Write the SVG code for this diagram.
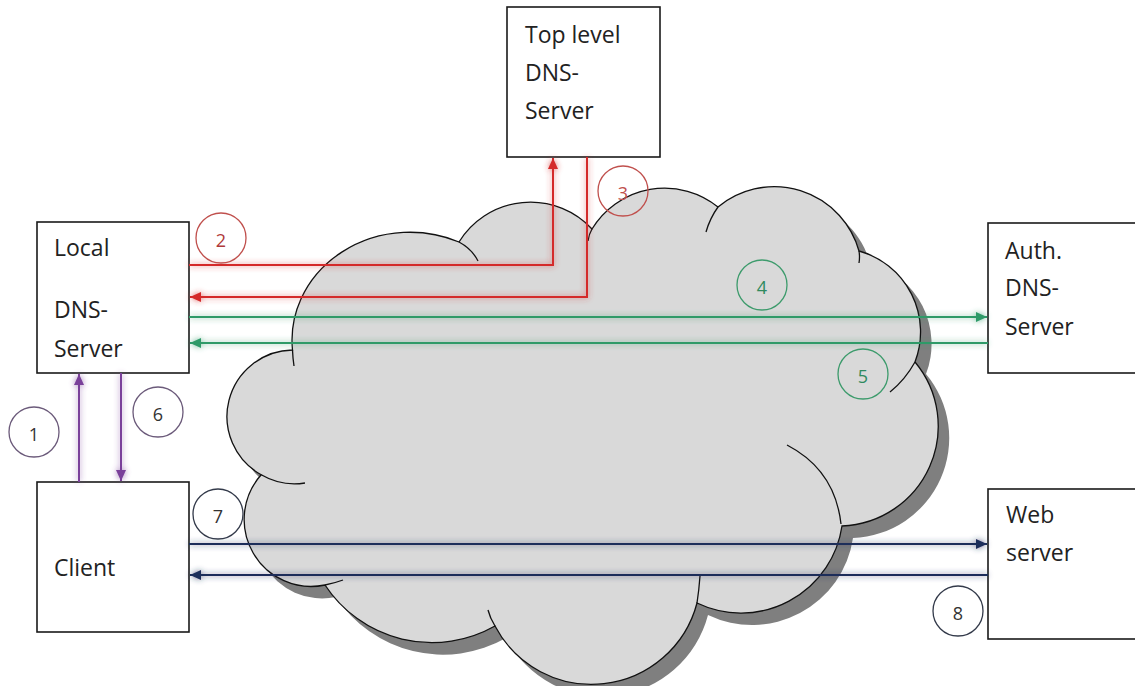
<svg xmlns="http://www.w3.org/2000/svg" xmlns:xlink="http://www.w3.org/1999/xlink" width="1135" height="686" viewBox="0 0 1135 686">
<style>
.box{fill:#fff;stroke:#1a1a1a;stroke-width:1.6}
.lbl{font-family:"Open Sans","Liberation Sans",sans-serif;font-size:23px;fill:#222}
.num{font-family:"Open Sans","Liberation Sans",sans-serif;font-size:18px;text-anchor:middle}
.circ{fill:none;stroke-width:1.3}
.seam{fill:none;stroke:#111;stroke-width:1.3}
.ln{fill:none;stroke-width:2}
.red{stroke:#d42a2a}
.green{stroke:#2f9a68}
.navy{stroke:#1f2d5a}
.purple{stroke:#7a3f9a}
</style>
<defs>
<path id="cloudShape" d="M261.2,474.8 A66.6,66.6 0 0 1 292.5,350 A118,108 0 0 1 459,242 A84,84 0 0 1 592,229 A85,85 0 0 1 718,207 A88,88 0 0 1 859,251 A84,84 0 0 1 915,362 A100,100 0 0 1 842,526 A102,102 0 0 1 697,603 A109,109 0 0 1 495,626 A128,128 0 0 1 325,585 A67,67 0 0 1 261.2,474.8 Z"/>
<marker id="arRed" viewBox="0 0 11 10" refX="11" refY="5" markerWidth="11" markerHeight="10" markerUnits="userSpaceOnUse" orient="auto"><path d="M0,0 L11,5 L0,10 Z" fill="#d42a2a"/></marker>
<marker id="arGreen" viewBox="0 0 11 10" refX="11" refY="5" markerWidth="11" markerHeight="10" markerUnits="userSpaceOnUse" orient="auto"><path d="M0,0 L11,5 L0,10 Z" fill="#2f9a68"/></marker>
<marker id="arNavy" viewBox="0 0 11 10" refX="11" refY="5" markerWidth="11" markerHeight="10" markerUnits="userSpaceOnUse" orient="auto"><path d="M0,0 L11,5 L0,10 Z" fill="#1f2d5a"/></marker>
<marker id="arPurple" viewBox="0 0 11 10" refX="11" refY="5" markerWidth="11" markerHeight="10" markerUnits="userSpaceOnUse" orient="auto"><path d="M0,0 L11,5 L0,10 Z" fill="#7a3f9a"/></marker>
<filter id="glow" filterUnits="userSpaceOnUse" x="0" y="0" width="1135" height="686">
<feGaussianBlur in="SourceGraphic" stdDeviation="3" result="b"/>
<feComponentTransfer in="b" result="b2"><feFuncA type="linear" slope="0.7"/></feComponentTransfer>
<feMerge><feMergeNode in="b2"/><feMergeNode in="SourceGraphic"/></feMerge>
</filter>
</defs>
<rect width="1135" height="686" fill="#fff"/>

<g id="cloud">
<use xlink:href="#cloudShape" href="#cloudShape" transform="translate(11,12)" fill="#7f7f7f"/>
<use xlink:href="#cloudShape" href="#cloudShape" fill="#d9d9d9" stroke="#111" stroke-width="1.3"/>
<path class="seam" d="M292.5,350 Q292.8,358 294,366"/>
<path class="seam" d="M261.2,474.8 A66.6,66.6 0 0 0 305,483"/>
<path class="seam" d="M459,242 Q472,249 478,261"/>
<path class="seam" d="M592,229 Q589,234 588,241"/>
<path class="seam" d="M718,207 Q710,218 706,232"/>
<path class="seam" d="M859,251 Q860,257 859,263"/>
<path class="seam" d="M915,362 Q905,380 890,392"/>
<path class="seam" d="M787,445 Q835,470 841,524"/>
<path class="seam" d="M700,576 Q699,590 697,603"/>
<path class="seam" d="M495,626 Q490,618 488,610"/>
<path class="seam" d="M325,585 Q335,583 343,580"/>
</g>

<g id="node-top">
<rect class="box" x="507" y="7" width="153" height="150"/>
<text class="lbl" x="525" y="43">Top level</text>
<text class="lbl" x="525" y="81">DNS-</text>
<text class="lbl" x="525" y="119">Server</text>
</g>
<g id="node-local">
<rect class="box" x="37" y="222" width="152" height="151"/>
<text class="lbl" x="54" y="256">Local</text>
<text class="lbl" x="54" y="318">DNS-</text>
<text class="lbl" x="54" y="357">Server</text>
</g>
<g id="node-client">
<rect class="box" x="37" y="482" width="152" height="150"/>
<text class="lbl" x="54" y="576">Client</text>
</g>
<g id="node-auth">
<rect class="box" x="988" y="223" width="160" height="150"/>
<text class="lbl" x="1005" y="259">Auth.</text>
<text class="lbl" x="1005" y="296">DNS-</text>
<text class="lbl" x="1005" y="335">Server</text>
</g>
<g id="node-web">
<rect class="box" x="988" y="489" width="160" height="150"/>
<text class="lbl" x="1006" y="523">Web</text>
<text class="lbl" x="1006" y="561">server</text>
</g>

<g id="connectors" filter="url(#glow)">
<path class="ln red" d="M189,265 H553 V158" marker-end="url(#arRed)"/>
<path class="ln red" d="M587,157 V297 H190" marker-end="url(#arRed)"/>
<path class="ln green" d="M189,317 H987" marker-end="url(#arGreen)"/>
<path class="ln green" d="M988,343 H190" marker-end="url(#arGreen)"/>
<path class="ln purple" d="M79,482 V374" marker-end="url(#arPurple)"/>
<path class="ln purple" d="M121,373 V481" marker-end="url(#arPurple)"/>
<path class="ln navy" d="M189,544 H987" marker-end="url(#arNavy)"/>
<path class="ln navy" d="M988,575 H190" marker-end="url(#arNavy)"/>
</g>

<g id="labels">
<g id="step-1"><circle class="circ" cx="34" cy="432" r="25" stroke="#6b5a7a"/><text class="num" x="34" y="441" fill="#333">1</text></g>
<g id="step-2"><circle class="circ" cx="221" cy="238" r="25" stroke="#c0504d"/><text class="num" x="221" y="247" fill="#b03a3a">2</text></g>
<g id="step-3"><circle class="circ" cx="623" cy="191" r="25" stroke="#c0504d"/><text class="num" x="623" y="200" fill="#c0504d">3</text></g>
<g id="step-4"><circle class="circ" cx="762" cy="285" r="25" stroke="#3d9b6c"/><text class="num" x="762" y="294" fill="#2f8a5e">4</text></g>
<g id="step-5"><circle class="circ" cx="863" cy="374" r="25" stroke="#3d9b6c"/><text class="num" x="863" y="383" fill="#2f8a5e">5</text></g>
<g id="step-6"><circle class="circ" cx="158" cy="412" r="25" stroke="#6b5a7a"/><text class="num" x="158" y="421" fill="#333">6</text></g>
<g id="step-7"><circle class="circ" cx="218" cy="514" r="25" stroke="#333a4a"/><text class="num" x="218" y="523" fill="#333">7</text></g>
<g id="step-8"><circle class="circ" cx="958" cy="611" r="25" stroke="#333a4a"/><text class="num" x="958" y="620" fill="#333">8</text></g>
</g>
</svg>
